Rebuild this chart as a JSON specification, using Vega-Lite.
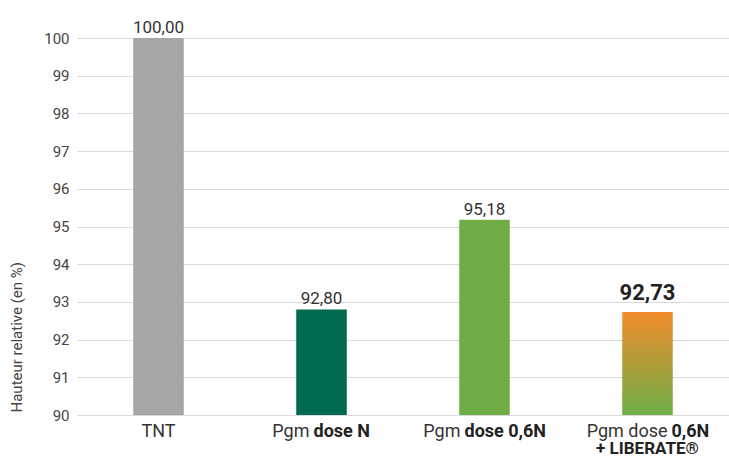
{
  "$schema": "https://vega.github.io/schema/vega-lite/v6.json",
  "width": 652,
  "height": 377,
  "autosize": {"type": "none"},
  "padding": {"left": 77, "top": 38, "right": 0, "bottom": 42},
  "background": "white",
  "config": {
    "view": {"stroke": null},
    "font": "Roboto",
    "axisY": {"tickCount": 11, "labelOverlap": false},
    "locale": {"number": {"decimal": ",", "thousands": "\u00a0", "grouping": [3], "currency": ["", " €"]}}
  },
  "datasets": {
    "bars": [
      {"cat": "TNT", "value": 100.0},
      {"cat": "Pgm dose N", "value": 92.80},
      {"cat": "Pgm dose 0,6N", "value": 95.18},
      {"cat": "Pgm dose 0,6N + LIBERATE®", "value": 92.73}
    ],
    "labels": [
      {"cat": "TNT", "part": "reg", "text": "TNT", "value": 90},
      {"cat": "Pgm dose N", "part": "reg", "text": "Pgm", "value": 90},
      {"cat": "Pgm dose N", "part": "bold", "text": "dose N", "value": 90},
      {"cat": "Pgm dose 0,6N", "part": "reg", "text": "Pgm", "value": 90},
      {"cat": "Pgm dose 0,6N", "part": "bold", "text": "dose 0,6N", "value": 90},
      {"cat": "Pgm dose 0,6N + LIBERATE®", "part": "reg", "text": "Pgm dose", "value": 90},
      {"cat": "Pgm dose 0,6N + LIBERATE®", "part": "bold", "text": "0,6N", "value": 90},
      {"cat": "Pgm dose 0,6N + LIBERATE®", "part": "bold2", "text": "+ LIBERATE®", "value": 90}
    ]
  },
  "encoding": {
    "x": {
      "field": "cat",
      "type": "nominal",
      "sort": null,
      "scale": {"domain": ["TNT", "Pgm dose N", "Pgm dose 0,6N", "Pgm dose 0,6N + LIBERATE®"], "paddingInner": 0.69, "paddingOuter": 0.345},
      "axis": null
    },
    "y": {
      "field": "value",
      "type": "quantitative",
      "scale": {"domain": [90, 100], "zero": false, "nice": false},
      "axis": {
        "values": [90, 91, 92, 93, 94, 95, 96, 97, 98, 99, 100],
        "tickCount": 11,
        "labelOverlap": false,
        "grid": true,
        "gridColor": "#d9d9d9",
        "gridWidth": 1,
        "domain": false,
        "ticks": false,
        "labelPadding": 8,
        "labelFontSize": 15,
        "labelColor": "#444444",
        "title": "Hauteur relative (en %)",
        "titleFontSize": 15,
        "titleFontWeight": "normal",
        "titleColor": "#444444",
        "titleAngle": -90,
        "titleX": -61,
        "titleY": 374,
        "titleAlign": "left",
        "titleBaseline": "middle"
      }
    }
  },
  "layer": [
    {
      "data": {"name": "bars"},
      "transform": [{"filter": "datum.cat !== 'Pgm dose 0,6N + LIBERATE®'"}],
      "mark": {"type": "bar"},
      "encoding": {
        "y2": {"datum": 90},
        "color": {
          "field": "cat",
          "type": "nominal",
          "scale": {"domain": ["TNT", "Pgm dose N", "Pgm dose 0,6N"], "range": ["#a6a6a6", "#006a4f", "#70ad47"]},
          "legend": null
        }
      }
    },
    {
      "data": {"name": "bars"},
      "transform": [{"filter": "datum.cat === 'Pgm dose 0,6N + LIBERATE®'"}],
      "mark": {
        "type": "bar",
        "color": {"gradient": "linear", "x1": 0, "y1": 0, "x2": 0, "y2": 1,
          "stops": [{"offset": 0, "color": "#f28b2c"}, {"offset": 1, "color": "#6daf47"}]}
      },
      "encoding": {"y2": {"datum": 90}}
    },
    {
      "data": {"name": "bars"},
      "transform": [{"filter": "datum.cat !== 'Pgm dose 0,6N + LIBERATE®'"}],
      "mark": {"type": "text", "fontSize": 17, "color": "#333333", "baseline": "alphabetic", "dy": -5},
      "encoding": {"text": {"field": "value", "type": "quantitative", "format": ".2f"}}
    },
    {
      "data": {"name": "bars"},
      "transform": [{"filter": "datum.cat === 'Pgm dose 0,6N + LIBERATE®'"}],
      "mark": {"type": "text", "fontSize": 22, "fontWeight": "bold", "color": "#222222", "baseline": "alphabetic", "dy": -12},
      "encoding": {"text": {"field": "value", "type": "quantitative", "format": ".2f"}}
    },
    {
      "data": {"name": "labels"},
      "transform": [{"filter": "datum.cat === 'TNT'"}],
      "mark": {"type": "text", "fontSize": 18, "color": "#333333", "baseline": "alphabetic", "align": "center", "dy": 22},
      "encoding": {"text": {"field": "text"}}
    },
    {
      "data": {"name": "labels"},
      "transform": [{"filter": "datum.cat === 'Pgm dose N' && datum.part === 'reg'"}],
      "mark": {"type": "text", "fontSize": 18, "color": "#333333", "baseline": "alphabetic", "align": "right", "dy": 22, "dx": -12},
      "encoding": {"text": {"field": "text"}}
    },
    {
      "data": {"name": "labels"},
      "transform": [{"filter": "datum.cat === 'Pgm dose N' && datum.part === 'bold'"}],
      "mark": {"type": "text", "fontSize": 18, "fontWeight": "bold", "color": "#222222", "baseline": "alphabetic", "align": "left", "dy": 22, "dx": -8},
      "encoding": {"text": {"field": "text"}}
    },
    {
      "data": {"name": "labels"},
      "transform": [{"filter": "datum.cat === 'Pgm dose 0,6N' && datum.part === 'reg'"}],
      "mark": {"type": "text", "fontSize": 18, "color": "#333333", "baseline": "alphabetic", "align": "right", "dy": 22, "dx": -24},
      "encoding": {"text": {"field": "text"}}
    },
    {
      "data": {"name": "labels"},
      "transform": [{"filter": "datum.cat === 'Pgm dose 0,6N' && datum.part === 'bold'"}],
      "mark": {"type": "text", "fontSize": 18, "fontWeight": "bold", "color": "#222222", "baseline": "alphabetic", "align": "left", "dy": 22, "dx": -20},
      "encoding": {"text": {"field": "text"}}
    },
    {
      "data": {"name": "labels"},
      "transform": [{"filter": "datum.cat === 'Pgm dose 0,6N + LIBERATE®' && datum.part === 'reg'"}],
      "mark": {"type": "text", "fontSize": 18, "color": "#333333", "baseline": "alphabetic", "align": "right", "dy": 22, "dx": 20},
      "encoding": {"text": {"field": "text"}}
    },
    {
      "data": {"name": "labels"},
      "transform": [{"filter": "datum.cat === 'Pgm dose 0,6N + LIBERATE®' && datum.part === 'bold'"}],
      "mark": {"type": "text", "fontSize": 18, "fontWeight": "bold", "color": "#222222", "baseline": "alphabetic", "align": "left", "dy": 22, "dx": 24},
      "encoding": {"text": {"field": "text"}}
    },
    {
      "data": {"name": "labels"},
      "transform": [{"filter": "datum.part === 'bold2'"}],
      "mark": {"type": "text", "fontSize": 17, "fontWeight": "bold", "color": "#222222", "baseline": "alphabetic", "align": "center", "dy": 39},
      "encoding": {"text": {"field": "text"}}
    }
  ]
}
